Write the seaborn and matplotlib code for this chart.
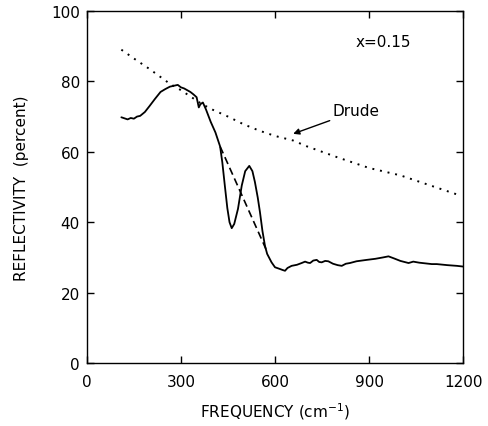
import numpy as np
import pandas as pd
import matplotlib
matplotlib.use('Agg')
import matplotlib.pyplot as plt
import seaborn as sns

# Измеренная отражательная способность (сплошная линия)
freq = [110, 120, 130, 140, 150, 160, 170, 185, 200, 217, 235, 250, 265, 280, 290,
        300, 310, 320, 330, 340, 350, 357, 362, 370, 380, 395, 410, 425, 432, 440,
        448, 455, 462, 470, 482, 494, 505, 518, 528, 536, 545, 552, 560, 568, 575,
        589, 600, 616, 625, 632, 640, 653, 670, 685, 696, 705, 712, 722, 733, 741,
        749, 760, 770, 785, 800, 813, 826, 839, 860, 893, 920, 945, 962, 980, 1000,
        1026, 1041, 1060, 1080, 1100, 1116, 1150, 1180, 1200]
refl = [69.8, 69.5, 69.2, 69.6, 69.4, 70.0, 70.2, 71.3, 73.0, 75.0, 77.0, 77.8, 78.5, 78.8, 79.0,
        78.3, 78.0, 77.5, 77.0, 76.3, 75.5, 72.6, 73.5, 74.0, 72.0, 68.5, 65.5, 61.5, 57.0, 50.4,
        44.0, 40.0, 38.3, 39.5, 43.8, 50.4, 54.5, 56.0, 54.5, 51.4, 47.0, 42.9, 37.5, 33.3, 31.0,
        28.6, 27.2, 26.7, 26.4, 26.2, 27.0, 27.6, 27.9, 28.4, 28.8, 28.5, 28.4, 29.1, 29.3, 28.7,
        28.6, 29.0, 28.9, 28.2, 27.8, 27.6, 28.2, 28.4, 28.9, 29.3, 29.6, 30.0, 30.3, 29.7, 29.0,
        28.4, 28.8, 28.5, 28.3, 28.1, 28.1, 27.8, 27.6, 27.4]

# Модель Друде (пунктир)
drude_freq = [110, 150, 200, 265, 300, 366, 400, 450, 500, 550, 600, 658, 700, 800, 900, 1000, 1100, 1190]
drude_refl = [89.0, 86.5, 83.5, 79.3, 77.5, 73.6, 72.0, 70.0, 67.8, 66.0, 64.5, 63.2, 61.6, 58.4, 55.4, 53.3, 50.3, 47.6]

# Штриховая линия без фононного пика
dash_freq = [425, 571]
dash_refl = [61.5, 32.4]

sns.set_style('ticks')
plt.rcParams['font.family'] = ['DejaVu Sans']
plt.rcParams['text.color'] = 'black'
plt.rcParams['axes.labelcolor'] = 'black'
plt.rcParams['xtick.color'] = 'black'
plt.rcParams['ytick.color'] = 'black'
plt.rcParams['axes.edgecolor'] = 'black'

fig = plt.figure(figsize=(4.88, 4.27), dpi=100)
ax = fig.add_axes([0.178, 0.1475, 0.771, 0.8245])

data = pd.DataFrame({'freq': freq, 'refl': refl})
drude = pd.DataFrame({'freq': drude_freq, 'refl': drude_refl})
dash = pd.DataFrame({'freq': dash_freq, 'refl': dash_refl})

sns.lineplot(data=data, x='freq', y='refl', ax=ax, color='black', linewidth=1.3, estimator=None)
sns.lineplot(data=drude, x='freq', y='refl', ax=ax, color='black', linewidth=1.4,
             linestyle=(0, (1, 3)), estimator=None)
sns.lineplot(data=dash, x='freq', y='refl', ax=ax, color='black', linewidth=1.2,
             linestyle=(0, (4.5, 2.5)), estimator=None)

ax.set_xlim(0, 1200)
ax.set_ylim(0, 100)
ax.set_xticks([0, 300, 600, 900, 1200])
ax.set_yticks([0, 20, 40, 60, 80, 100])
ax.tick_params(direction='in', top=True, right=True, length=5, width=1, labelsize=11, pad=5)
ax.tick_params(axis='x', pad=8)
for s in ax.spines.values():
    s.set_linewidth(1.0)

ax.set_xlabel('FREQUENCY (cm$^{-1}$)', fontsize=11, labelpad=8)
ax.set_ylabel('REFLECTIVITY  (percent)', fontsize=11, labelpad=16)

ax.text(944, 91.2, 'x=0.15', fontsize=11, ha='center', va='center')
ax.annotate('Drude', xy=(658, 65.1), xytext=(785, 71.6), fontsize=11, ha='left', va='center',
            arrowprops=dict(arrowstyle='-|>', color='black', lw=1.0, mutation_scale=9, shrinkA=0, shrinkB=0))

fig.savefig('out.png', dpi=100)
